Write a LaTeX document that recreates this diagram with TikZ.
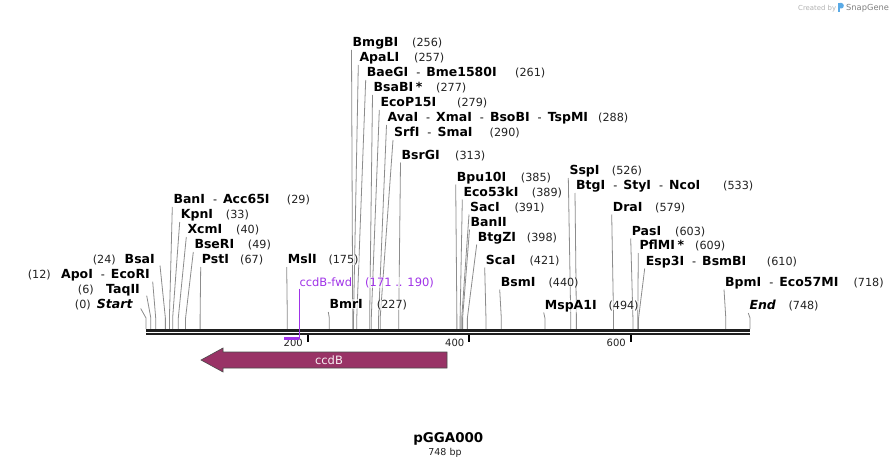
\documentclass[tikz,border=0pt]{standalone}
\usepackage{fontspec}
\setmainfont{DejaVu Sans}
\usetikzlibrary{calc}
\pgfdeclarelayer{back}
\pgfdeclarelayer{bg}
\pgfsetlayers{back,bg,main}
\definecolor{leadc}{HTML}{8C8C8C}
\definecolor{cdsc}{HTML}{993366}
\definecolor{primc}{HTML}{A033E8}
\definecolor{numc}{HTML}{222222}
\definecolor{iconc}{HTML}{5AAAE6}
\tikzset{
  nm/.style={anchor=base west, inner sep=0pt, font=\fontsize{12.5}{15}\selectfont\bfseries, fill=white, fill opacity=0.6, text opacity=1},
  num/.style={anchor=base west, inner sep=0pt, font=\fontsize{11.2}{13}\selectfont, text=numc, fill=white, fill opacity=0.6, text opacity=1},
  lead/.style={draw=leadc, line width=0.8pt},
  ticklab/.style={anchor=base east, inner sep=0pt, font=\fontsize{10}{12}\selectfont, text=numc},
  bbone/.style={line width=2.7pt, draw=black!88},
}
\newcommand{\hy}{\hspace{8pt}{\mdseries\fontsize{11.2}{13}\selectfont -}\hspace{6pt}}
% id, name x, baseline, name, number x, number, site x
\newcommand{\enz}[7]{%
  \node[nm] (#1) at (#2,#3) {#4};
  \node[num] (#1n) at (#5,#3) {#6};
  \coordinate (#1s) at (#7,318);
  \begin{pgfonlayer}{bg}
  \draw[lead] ($(#1.base west)+(-1,3.5)$) -- (#1s) -- ($(#1s)+(0,11)$);
  \end{pgfonlayer}
}
% right-aligned: id, name right x, baseline, name, number right x, number, site x, dx, dy
\newcommand{\lenz}[9]{%
  \node[nm, anchor=base east] (#1) at (#2,#3) {#4};
  \node[num, anchor=base east] (#1n) at (#5,#3) {#6};
  \coordinate (#1s) at (#7,318);
  \begin{pgfonlayer}{bg}
  \draw[lead] ($(#1.base east)+(#8,#9)$) -- (#1s) -- ($(#1s)+(0,11)$);
  \end{pgfonlayer}
}
\begin{document}
\begin{tikzpicture}[x=1pt,y=-1pt]
\begin{pgfonlayer}{back}
\fill[white] (0,0) rectangle (896,468);
\end{pgfonlayer}
\useasboundingbox (0,0) rectangle (896,468);

% backbone
\coordinate (bbL1) at (146,330.3);
\coordinate (bbR1) at (750,330.3);
\coordinate (bbL2) at (146,334);
\coordinate (bbR2) at (750,334);
\draw[bbone] (bbL1) -- (bbR1);
\draw[bbone] (bbL2) -- (bbR2);

% ticks
\foreach \v/\x in {200/307.5,400/469,600/630.5}{
  \draw[line width=2pt, black] (\x,335) -- (\x,342);
  \node[ticklab] (t\v) at (\x-4.5,346.5) {\v};
}

% top group
\enz{bmgbi}{352.5}{46.5}{BmgBI}{412}{(256)}{352.72}
\enz{apali}{359.3}{61.5}{ApaLI}{414}{(257)}{353.52}
\enz{baegi}{366.7}{76.5}{BaeGI\hy Bme1580I}{515}{(261)}{356.75}
\enz{bsabi}{373.5}{91.5}{BsaBI\hspace{2.5pt}*}{436}{(277)}{369.67}
\enz{ecop}{380.3}{106.5}{EcoP15I}{457}{(279)}{371.29}
\enz{avai}{387.5}{121.5}{AvaI\hy XmaI\hy BsoBI\hy TspMI}{598}{(288)}{378.56}
\enz{srfi}{394}{136.5}{SrfI\hy SmaI}{489.5}{(290)}{380.17}
\enz{bsrgi}{401.5}{159}{BsrGI}{455}{(313)}{398.74}

% middle group
\enz{bpu}{456.7}{181}{Bpu10I}{520.7}{(385)}{456.88}
\enz{ecofs}{463.3}{196}{Eco53kI}{531.7}{(389)}{460.11}
\enz{saci}{470}{211}{SacI}{514.3}{(391)}{461.73}
\enz{banii}{470.5}{226}{BanII}{470.5}{}{462.6}
\enz{btgzi}{477.7}{241}{BtgZI}{526.7}{(398)}{467.38}
\enz{scai}{485.7}{264}{ScaI}{529.3}{(421)}{485.95}
\enz{bsmi}{500.7}{286}{BsmI}{548.3}{(440)}{501.29}
\enz{mspa}{544.7}{309}{MspA1I}{608.3}{(494)}{544.90}
\enz{sspi}{569.3}{174.5}{SspI}{611.7}{(526)}{570.74}
\enz{btgi}{576}{189.5}{BtgI\hy StyI\hy NcoI}{723}{(533)}{576.39}
\enz{drai}{612.7}{211}{DraI}{655}{(579)}{613.54}
\enz{pasi}{631.7}{235}{PasI}{675}{(603)}{632.92}
\enz{pflmi}{639.3}{249.5}{PflMI\hspace{2.5pt}*}{695}{(609)}{637.76}
\enz{esp}{645.7}{265}{Esp3I\hy BsmBI}{766.7}{(610)}{638.57}
\enz{bpmi}{725}{286}{BpmI\hy Eco57MI}{853.3}{(718)}{725.78}
\enz{endl}{749.3}{309.5}{\itshape End}{788.3}{(748)}{750}

% left group
\enz{bani}{173.3}{203.5}{BanI\hy Acc65I}{286.7}{(29)}{169.42}
\enz{kpni}{180.7}{218.5}{KpnI}{225.7}{(33)}{172.65}
\enz{xcmi}{187.3}{233.5}{XcmI}{236}{(40)}{178.30}
\enz{bseri}{194.3}{248.5}{BseRI}{247.7}{(49)}{185.57}
\enz{psti}{201.7}{263.5}{PstI}{240}{(67)}{200.10}
\enz{msli}{287.7}{263.5}{MslI}{328.3}{(175)}{287.31}
\enz{bmri}{329.3}{308.5}{BmrI}{376.7}{(227)}{329.30}

\lenz{bsai}{155}{263.5}{BsaI}{116}{(24)}{165.38}{5}{2}
\lenz{apoi}{150}{278.5}{ApoI\hy EcoRI}{51}{(12)}{155.69}{2.7}{3.2}
\lenz{taqii}{140}{293.5}{TaqII}{94}{(6)}{150.84}{6.7}{2.2}
\lenz{start}{132.7}{308.5}{\itshape Start}{91}{(0)}{146}{8}{0}

% primer
\node[anchor=base west, inner sep=0pt, font=\fontsize{11.5}{13}\selectfont, text=primc, fill=white, fill opacity=0.6, text opacity=1] (fwd) at (299.3,286) {ccdB-fwd};
\node[anchor=base west, inner sep=0pt, font=\fontsize{11.5}{13}\selectfont, text=primc, fill=white, fill opacity=0.6, text opacity=1] (fwdn) at (365,286) {(171 .. 190)};
\coordinate (fwdL) at (284,338.5);
\coordinate (fwdR) at (299.4,338.5);
\draw[primc, line width=2.2pt] (fwdL) -- (fwdR);
\draw[primc, line width=1pt] ($(fwd.base west)+(0,2.5)$) -- (fwd.base west |- fwdR);

% ccdB feature
\filldraw[fill=cdsc, draw=black!70, line width=0.6pt] (447,352) -- (223,352) -- (223,348) -- (201,360) -- (223,372) -- (223,368) -- (447,368) -- cycle;
\node[text=white!92!cdsc, font=\fontsize{11.5}{13}\selectfont, inner sep=0pt] (ccdb) at (329,360) {ccdB};

% title
\node[anchor=base, inner sep=0pt, font=\fontsize{13.4}{16}\selectfont\bfseries] (title) at (448.3,442) {pGGA000};
\node[anchor=base, inner sep=0pt, font=\fontsize{9.5}{11}\selectfont, text=numc] (size) at (445,455.8) {748 bp};

% watermark
\node[anchor=base west, inner sep=0pt, font=\fontsize{6.9}{8}\selectfont, text=black!30] (cby) at (798,10.5) {Created by};
\fill[iconc] (837.5,3) rectangle (839.8,12.5);
\fill[iconc] (839.8,3) -- (841.5,3) .. controls (844.5,3) and (844.5,8.5) .. (841.5,8.5) -- (839.8,8.5) -- cycle;
\node[anchor=base west, inner sep=0pt, font=\fontsize{8.3}{10}\selectfont, text=black!50] (sg) at (846,10.5) {SnapGene};
\end{tikzpicture}
\end{document}
